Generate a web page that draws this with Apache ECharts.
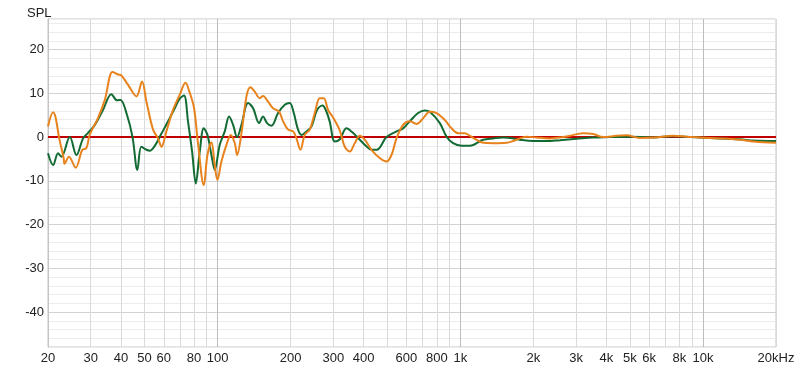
<!DOCTYPE html>
<html>
<head>
<meta charset="utf-8">
<script src="https://cdn.jsdelivr.net/npm/echarts@6/dist/echarts.min.js"></script>
<style>
html,body{margin:0;padding:0;background:#fff;}
#chart{width:800px;height:373px;}
</style>
</head>
<body>
<div id="chart"></div>
<script>
// ---- data ----
var greenFreq = [20,21.0,22.0,22.7,24.6,26.2,27.9,29.2,31.2,33.7,36.5,38.5,39.8,42.3,44.6,46.7,48.5,50.9,52.5,55.1,58.7,62.5,66.6,69.8,72.7,75.5,78.5,81.3,84.4,87.7,90.8,94.3,97.3,102,107,111.5,115.8,120.3,125.4,133.5,140,148.2,153.9,159.8,166.7,177.5,189.1,198.3,206,214.5,221.6,232.3,243.6,256.9,270.4,280.9,289.8,304,318.8,339.6,357.2,385.4,408,430.6,452.8,496.6,546,581.2,619.4,670,714.2,749,823.6,877.4,934.2,1012,1095,1242,1366,1502,1651,1759,1996,2268,2572,3014,3528,4134,4998,6218,7516,9714,11742,14200,16108,20000];
var greenDb   = [-3.7,-6.4,-3.7,-4.5,0,-4.1,-0.3,0.9,2.8,6.2,9.8,8.4,8.5,5.1,0,-7.5,-2.2,-2.9,-3.1,-2.0,0.8,3.6,6.6,8.8,9.5,3.6,-3.3,-10.6,-3.3,2.0,0.5,-4.1,-7.5,-1.8,1.3,4.7,2.8,0,2.8,7.8,6.6,3.2,4.7,3.2,2.6,5.5,7.4,7.8,5.5,1.7,0.5,1.3,2.4,6.2,7.2,5.8,3.5,-1.0,-0.5,2.0,1.2,-0.6,-2.0,-2.9,-2.9,0,1.3,2.0,3.6,5.5,6.1,5.8,3.2,0.1,-1.4,-2.0,-2.0,-0.6,-0.3,-0.1,-0.3,-0.6,-0.9,-0.9,-0.7,-0.4,-0.1,0,0.1,-0.1,0.2,-0.1,-0.3,-0.5,-0.8,-0.9];
var orangeFreq = [20,21.0,21.5,22.2,23.2,23.4,24.4,26.0,27.7,28.8,29.7,32.1,34.3,36.9,38.9,40.1,42.7,46.3,48.8,50.9,54.2,56.8,58.7,61.5,65.5,69.8,73.7,76.8,80.0,83.0,87.7,90.8,94.3,97.3,99.8,103.7,108.7,113.3,117.7,120.3,125.4,131.5,136.5,142.2,149.2,153.9,161.4,169.2,179.2,186.1,195.1,204.6,211.3,219.5,228.6,239.8,251.4,263.6,273.8,285.2,299.2,318.8,334.2,350.4,367.4,385.4,404,430.6,465.8,496.6,520.6,546,581.2,619.4,660,702.8,749,798.2,863.4,920,979.6,1044,1095,1148,1242,1366,1551,1651,1759,1875,2062,2339,2572,2829,3209,3528,3880,4406,4845,5496,6336,7516,8562,9714,11742,14200,16108,17712,20000];
var orangeDb   = [2.4,5.7,4.5,0,-4.8,-6.1,-4.5,-7.0,-2.9,-2.5,0.5,4.3,8.5,14.9,14.3,14.1,12.0,9.3,12.7,8.1,1.7,-0.3,-2.2,1.3,6.2,9.7,12.4,10.1,6.6,-1.4,-11.0,-4.1,-1.2,-6.4,-9.8,-5.6,-1.8,0.5,-1.4,-4.1,0.9,9.3,11.4,10.4,8.9,9.4,8.1,6.6,5.8,3.6,1.7,1.3,-0.3,-2.9,0.5,1.7,5.5,8.9,8.9,6.2,4.5,1.5,-2.2,-3.3,-1.4,0.3,-0.6,-2.9,-4.8,-5.6,-4.1,-0.3,2.8,3.6,3.0,4.3,5.8,5.5,3.9,2.0,0.9,0.9,0.3,-0.4,-1.3,-1.4,-1.3,-0.9,-0.3,0.1,-0.1,-0.3,-0.1,0.3,0.9,0.7,0,0.3,0.4,-0.2,-0.1,0.3,0.1,-0.1,-0.3,-0.6,-1.0,-1.2,-1.3];
var refFreq = [20,20000];
var refDb = [0,0];
var xGridFreqs = [20,30,40,50,60,70,80,90,100,200,300,400,500,600,700,800,900,1000,2000,3000,4000,5000,6000,7000,8000,9000,10000,20000];
var xLabelFreqs = [20,30,40,50,60,80,100,200,300,400,600,800,1000,2000,3000,4000,5000,6000,8000,10000,20000];
var yLabelValues = [-40,-30,-20,-10,0,10,20];

function pairs(f, v){ return f.map(function(x,i){ return [x, v[i]]; }); }
function fmtFreq(v){
  v = Math.round(v);
  if (v === 20000) return '20kHz';
  if (v >= 1000) return (v/1000) + 'k';
  return String(v);
}
var font = '"Liberation Sans", Arial, sans-serif';
var chart = echarts.init(document.getElementById('chart'), null, {renderer:'canvas'});
chart.setOption({
  animation: false,
  backgroundColor: '#fff',
  title: {text: 'SPL', left: 22, top: 2, textStyle: {fontSize: 13, fontWeight: 'normal', color: '#222', fontFamily: font}},
  grid: {left: 48, right: 24, top: 19, bottom: 26, show: true, borderColor: '#c4c4c4', borderWidth: 1, containLabel: false},
  xAxis: {
    type: 'log', logBase: 10, min: 20, max: 20000,
    axisLine: {show: true, lineStyle: {color: '#c4c4c4', width: 1}},
    axisTick: {show: false, customValues: xGridFreqs},
    axisLabel: {customValues: xLabelFreqs, formatter: fmtFreq, margin: 5, fontSize: 13, color: '#222', fontFamily: font, hideOverlap: false, showMinLabel: true, showMaxLabel: true},
    splitLine: {show: true, lineStyle: {width: 1, color: ['#dadada','#dadada','#dadada','#dadada','#dadada','#dadada','#dadada','#dadada','#bdbdbd']}},
    minorSplitLine: {show: false}
  },
  yAxis: {
    type: 'value', min: -48, max: 27, interval: 2,
    axisLine: {show: true, lineStyle: {color: '#c4c4c4', width: 1}},
    axisTick: {show: false},
    axisLabel: {margin: 4, fontSize: 13, color: '#222', fontFamily: font,
      formatter: function(v){ return yLabelValues.indexOf(v) >= 0 ? String(v) : ''; }},
    splitLine: {show: true, lineStyle: {width: 1, color: ['#ececec','#ececec','#ececec','#ececec','#d2d2d2']}}
  },
  series: [
    {type: 'line', data: pairs(refFreq, refDb), showSymbol: false, symbol: 'none', lineStyle: {color: '#c00000', width: 2}, z: 2},
    {type: 'line', data: pairs(greenFreq, greenDb), showSymbol: false, symbol: 'none', smooth: 0.35, lineStyle: {color: '#136b34', width: 2}, z: 3},
    {type: 'line', data: pairs(orangeFreq, orangeDb), showSymbol: false, symbol: 'none', smooth: 0.35, lineStyle: {color: '#e8821c', width: 2}, z: 4}
  ]
});
</script>
</body>
</html>
